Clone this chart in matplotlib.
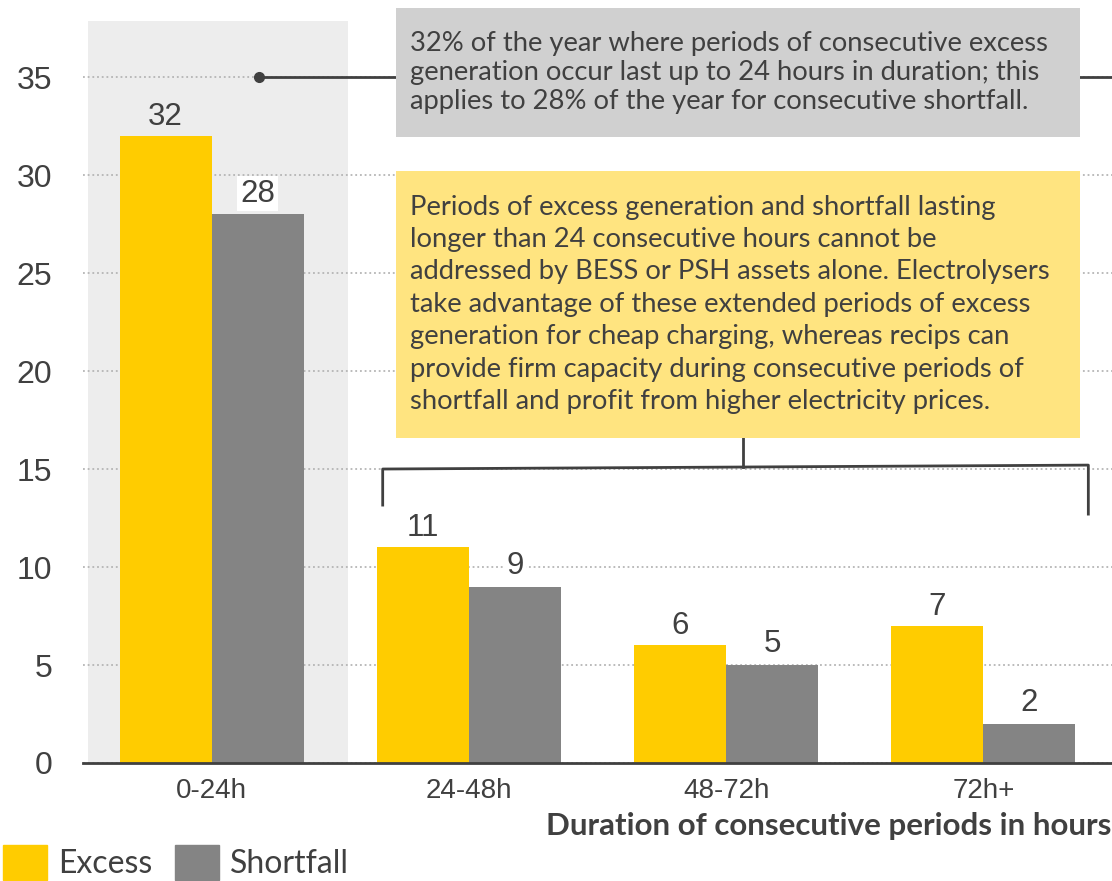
import numpy as np
import matplotlib
matplotlib.use('Agg')
import matplotlib.pyplot as plt
from matplotlib.patches import Rectangle, Patch

# share of the year (%) by length of consecutive run
categories = ['0-24h', '24-48h', '48-72h', '72h+']
excess = [32, 11, 6, 7]
shortfall = [28, 9, 5, 2]

note_top = ('32% of the year where periods of consecutive excess\n'
            'generation occur last up to 24 hours in duration; this\n'
            'applies to 28% of the year for consecutive shortfall.')
note_mid = ('Periods of excess generation and shortfall lasting\n'
            'longer than 24 consecutive hours cannot be\n'
            'addressed by BESS or PSH assets alone. Electrolysers\n'
            'take advantage of these extended periods of excess\n'
            'generation for cheap charging, whereas recips can\n'
            'provide firm capacity during consecutive periods of\n'
            'shortfall and profit from higher electricity prices.')

yellow = '#FFCC00'
grey = '#848484'
txt = '#404040'
num_font = 'Liberation Sans'
note_font = 'Lato'

fig = plt.figure(figsize=(11.12, 8.81), dpi=100)
ax = fig.add_axes([83 / 1112, 1 - 763 / 881, 1 - 83 / 1112, (763 - 21) / 881])

x = np.arange(len(categories))
w = 0.358

# highlight the first duration band
ax.axvspan(-0.482, 0.532, color='#EDEDED', zorder=0, lw=0)

ax.bar(x - w / 2, excess, w, color=yellow, zorder=2)
ax.bar(x + w / 2, shortfall, w, color=grey, zorder=2)

for xi, v in zip(x - w / 2, excess):
    ax.annotate(str(v), (xi, v), xytext=(0, 3), textcoords='offset points',
                ha='center', va='bottom', fontsize=22.5, color=txt,
                family=num_font, zorder=4)
for xi, v in zip(x + w / 2, shortfall):
    ax.annotate(str(v), (xi, v), xytext=(0, 4), textcoords='offset points',
                ha='center', va='bottom', fontsize=22.5, color=txt,
                family=num_font, zorder=4,
                bbox=dict(facecolor='white', edgecolor='none', pad=2))

ax.set_xlim(-0.5, 3.5)
ax.set_ylim(0, 37.86)
ax.set_yticks(range(0, 40, 5))
ax.set_xticks(x)
ax.set_xticklabels(categories)
ax.set_axisbelow(True)
ax.yaxis.grid(True, linestyle=(0, (1, 1.6)), color='#B5B5B5', lw=1.3)
ax.tick_params(length=0)
ax.tick_params(axis='y', pad=22, labelsize=23, labelcolor=txt)
ax.tick_params(axis='x', pad=11, labelsize=20, labelcolor=txt)
for lab in ax.get_xticklabels() + ax.get_yticklabels():
    lab.set_family(num_font)
for s in ['top', 'right', 'left']:
    ax.spines[s].set_visible(False)
ax.spines['bottom'].set_color(txt)
ax.spines['bottom'].set_linewidth(2)
ax.spines['bottom'].set_zorder(5)

# callout for the 0-24h band
ax.plot([0.183, 3.5], [35, 35], color=txt, lw=2, clip_on=False, zorder=3)
ax.plot(0.183, 35, 'o', color=txt, ms=7, zorder=3)
ax.add_patch(Rectangle((0.715, 31.94), 2.662, 6.58, facecolor='#D0D0D0',
                       edgecolor='none', clip_on=False, zorder=4))
ax.text(0.773, 37.35, note_top, ha='left', va='top', fontsize=19.7,
        family=note_font, color=txt, linespacing=1.2, zorder=5, clip_on=False)

# callout for the longer bands
ax.add_patch(Rectangle((0.715, 16.58), 2.662, 13.62, facecolor='#FFE480',
                       edgecolor='none', zorder=4))
ax.text(0.773, 29.0, note_mid, ha='left', va='top', fontsize=19.7,
        family=note_font, color=txt, linespacing=1.37, zorder=5)
ax.plot([2.064, 2.064], [16.58, 15.1], color=txt, lw=2, zorder=3)
ax.plot([0.665, 0.665, 3.408, 3.408], [13.16, 15.0, 15.2, 12.7],
        color=txt, lw=2, zorder=3)

fig.text(1111 / 1112, 1 - 835 / 881, 'Duration of consecutive periods in hours',
         ha='right', va='baseline', fontsize=22.5, fontweight='bold',
         family=note_font, color=txt)

handles = [Patch(color=yellow, label='Excess'), Patch(color=grey, label='Shortfall')]
leg = fig.legend(handles=handles, loc='upper left', bbox_to_anchor=(0.003, 1 - 845 / 881),
                 ncol=2, frameon=False, handlelength=1.375,
                 handleheight=1.3, handletextpad=0.34, columnspacing=0.72,
                 borderpad=0, borderaxespad=0, prop={'family': note_font, 'size': 23})
for t in leg.get_texts():
    t.set_color(txt)

fig.savefig('out.png', dpi=100)
